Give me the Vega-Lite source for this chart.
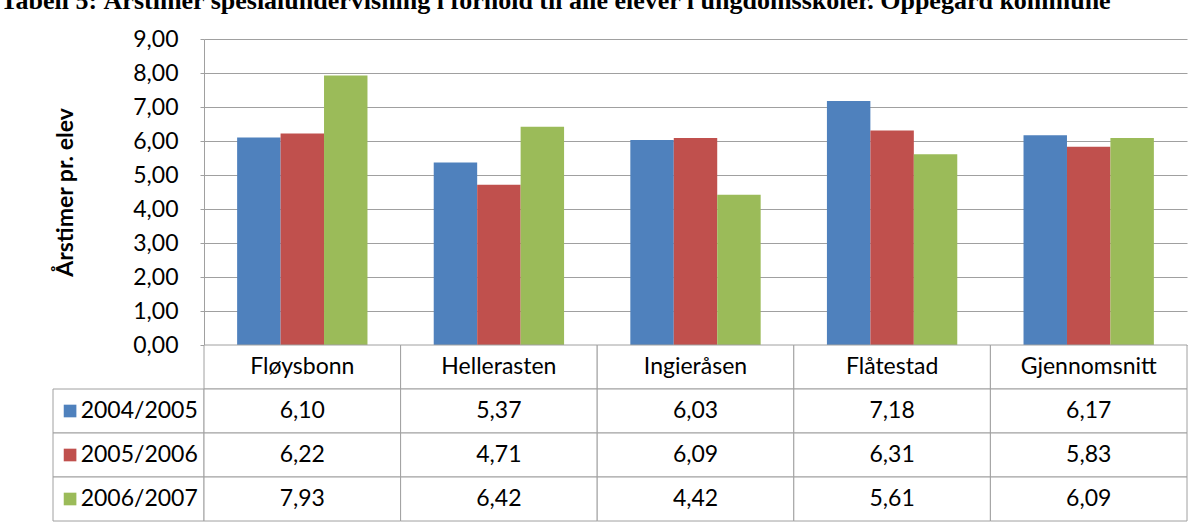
{
  "$schema": "https://vega.github.io/schema/vega-lite/v6.json",
  "padding": {"left": 0, "top": -12, "right": 0, "bottom": 0},
  "background": "white",
  "title": {
    "text": "Tabell 5: Årstimer spesialundervisning i forhold til alle elever i ungdomsskoler. Oppegård kommune",
    "font": "Liberation Serif",
    "fontSize": 26,
    "fontWeight": "bold",
    "color": "#000000",
    "anchor": "start",
    "dx": -52,
    "offset": 14
  },
  "datasets": {
    "tabell": [
      {"skole": "Fløysbonn", "periode": "2004/2005", "verdi": 6.10},
      {"skole": "Fløysbonn", "periode": "2005/2006", "verdi": 6.22},
      {"skole": "Fløysbonn", "periode": "2006/2007", "verdi": 7.93},
      {"skole": "Hellerasten", "periode": "2004/2005", "verdi": 5.37},
      {"skole": "Hellerasten", "periode": "2005/2006", "verdi": 4.71},
      {"skole": "Hellerasten", "periode": "2006/2007", "verdi": 6.42},
      {"skole": "Ingieråsen", "periode": "2004/2005", "verdi": 6.03},
      {"skole": "Ingieråsen", "periode": "2005/2006", "verdi": 6.09},
      {"skole": "Ingieråsen", "periode": "2006/2007", "verdi": 4.42},
      {"skole": "Flåtestad", "periode": "2004/2005", "verdi": 7.18},
      {"skole": "Flåtestad", "periode": "2005/2006", "verdi": 6.31},
      {"skole": "Flåtestad", "periode": "2006/2007", "verdi": 5.61},
      {"skole": "Gjennomsnitt", "periode": "2004/2005", "verdi": 6.17},
      {"skole": "Gjennomsnitt", "periode": "2005/2006", "verdi": 5.83},
      {"skole": "Gjennomsnitt", "periode": "2006/2007", "verdi": 6.09}
    ],
    "skoler": [
      {"skole": "Fløysbonn"},
      {"skole": "Hellerasten"},
      {"skole": "Ingieråsen"},
      {"skole": "Flåtestad"},
      {"skole": "Gjennomsnitt"}
    ],
    "perioder": [
      {"periode": "2004/2005"},
      {"periode": "2005/2006"},
      {"periode": "2006/2007"}
    ]
  },
  "columns": 2,
  "spacing": 0,
  "bounds": "flush",
  "align": "each",
  "resolve": {"scale": {"x": "independent", "y": "independent", "color": "independent"}},
  "concat": [
    {
      "width": 151,
      "height": 306,
      "view": {"stroke": null},
      "data": {"values": []},
      "mark": "point",
      "encoding": {}
    },
    {
      "width": 983,
      "height": 306,
      "view": {"stroke": null},
      "data": {"name": "tabell"},
      "mark": {"type": "bar"},
      "encoding": {
        "x": {
          "field": "skole",
          "type": "nominal",
          "sort": ["Fløysbonn", "Hellerasten", "Ingieråsen", "Flåtestad", "Gjennomsnitt"],
          "scale": {"paddingInner": 0.337, "paddingOuter": 0.1685},
          "axis": null
        },
        "xOffset": {
          "field": "periode",
          "type": "nominal",
          "sort": ["2004/2005", "2005/2006", "2006/2007"],
          "scale": {"paddingInner": 0, "paddingOuter": 0}
        },
        "y": {
          "field": "verdi",
          "type": "quantitative",
          "scale": {"domain": [0, 9], "nice": false, "zero": true},
          "axis": {
            "values": [0, 1, 2, 3, 4, 5, 6, 7, 8, 9],
            "format": ".2f",
            "title": "Årstimer pr. elev",
            "titleFont": "Lato",
            "titleFontSize": 23,
            "titleFontWeight": "bold",
            "titleColor": "#000000",
            "titlePadding": 55,
            "labelFont": "Lato",
            "labelFontSize": 23,
            "labelColor": "#000000",
            "labelPadding": 22,
            "tickSize": 4,
            "tickColor": "#a0a0a0",
            "domainColor": "#a0a0a0",
            "grid": true,
            "gridColor": "#a0a0a0",
            "gridOpacity": 1
          }
        },
        "color": {
          "field": "periode",
          "type": "nominal",
          "scale": {"domain": ["2004/2005", "2005/2006", "2006/2007"], "range": ["#4F81BD", "#C0504D", "#9BBB59"]},
          "legend": null
        }
      }
    },
    {
      "width": 151,
      "height": 176,
      "view": {"stroke": null},
      "data": {"name": "perioder"},
      "encoding": {
        "y": {
          "field": "periode",
          "type": "nominal",
          "scale": {"domain": ["header", "2004/2005", "2005/2006", "2006/2007"], "paddingInner": 0, "paddingOuter": 0},
          "axis": null
        }
      },
      "layer": [
        {"mark": {"type": "rect", "fill": "white", "stroke": "#a0a0a0", "strokeWidth": 1}},
        {
          "mark": {"type": "point", "shape": "square", "filled": true, "size": 160, "opacity": 1},
          "encoding": {
            "x": {"datum": 0.113, "type": "quantitative", "scale": {"domain": [0, 1]}, "axis": null},
            "color": {
              "field": "periode",
              "type": "nominal",
              "scale": {"domain": ["2004/2005", "2005/2006", "2006/2007"], "range": ["#4F81BD", "#C0504D", "#9BBB59"]},
              "legend": null
            }
          }
        },
        {
          "mark": {"type": "text", "align": "left", "baseline": "middle", "font": "Lato", "fontSize": 23, "color": "#000000"},
          "encoding": {
            "x": {"datum": 0.183, "type": "quantitative"},
            "text": {"field": "periode"}
          }
        }
      ]
    },
    {
      "width": 983,
      "height": 176,
      "view": {"stroke": null},
      "encoding": {
        "x": {
          "field": "skole",
          "type": "nominal",
          "scale": {"domain": ["Fløysbonn", "Hellerasten", "Ingieråsen", "Flåtestad", "Gjennomsnitt"], "paddingInner": 0, "paddingOuter": 0},
          "axis": null
        }
      },
      "layer": [
        {
          "data": {"name": "skoler"},
          "mark": {"type": "rect", "fill": "white", "stroke": "#a0a0a0", "strokeWidth": 1},
          "encoding": {
            "y": {
              "datum": "header",
              "type": "nominal",
              "scale": {"domain": ["header", "2004/2005", "2005/2006", "2006/2007"], "paddingInner": 0, "paddingOuter": 0},
              "axis": null
            }
          }
        },
        {
          "data": {"name": "tabell"},
          "mark": {"type": "rect", "fill": "white", "stroke": "#a0a0a0", "strokeWidth": 1},
          "encoding": {
            "y": {"field": "periode", "type": "nominal"}
          }
        },
        {
          "data": {"name": "skoler"},
          "mark": {"type": "text", "baseline": "middle", "font": "Lato", "fontSize": 23, "color": "#000000"},
          "encoding": {
            "y": {"datum": "header", "type": "nominal"},
            "text": {"field": "skole"}
          }
        },
        {
          "data": {"name": "tabell"},
          "mark": {"type": "text", "baseline": "middle", "font": "Lato", "fontSize": 23, "color": "#000000"},
          "encoding": {
            "y": {"field": "periode", "type": "nominal"},
            "text": {"field": "verdi", "type": "quantitative", "format": ".2f"}
          }
        }
      ]
    }
  ],
  "config": {
    "font": "Lato",
    "locale": {
      "number": {"decimal": ",", "thousands": " ", "grouping": [3], "currency": ["", " kr"]}
    }
  }
}
